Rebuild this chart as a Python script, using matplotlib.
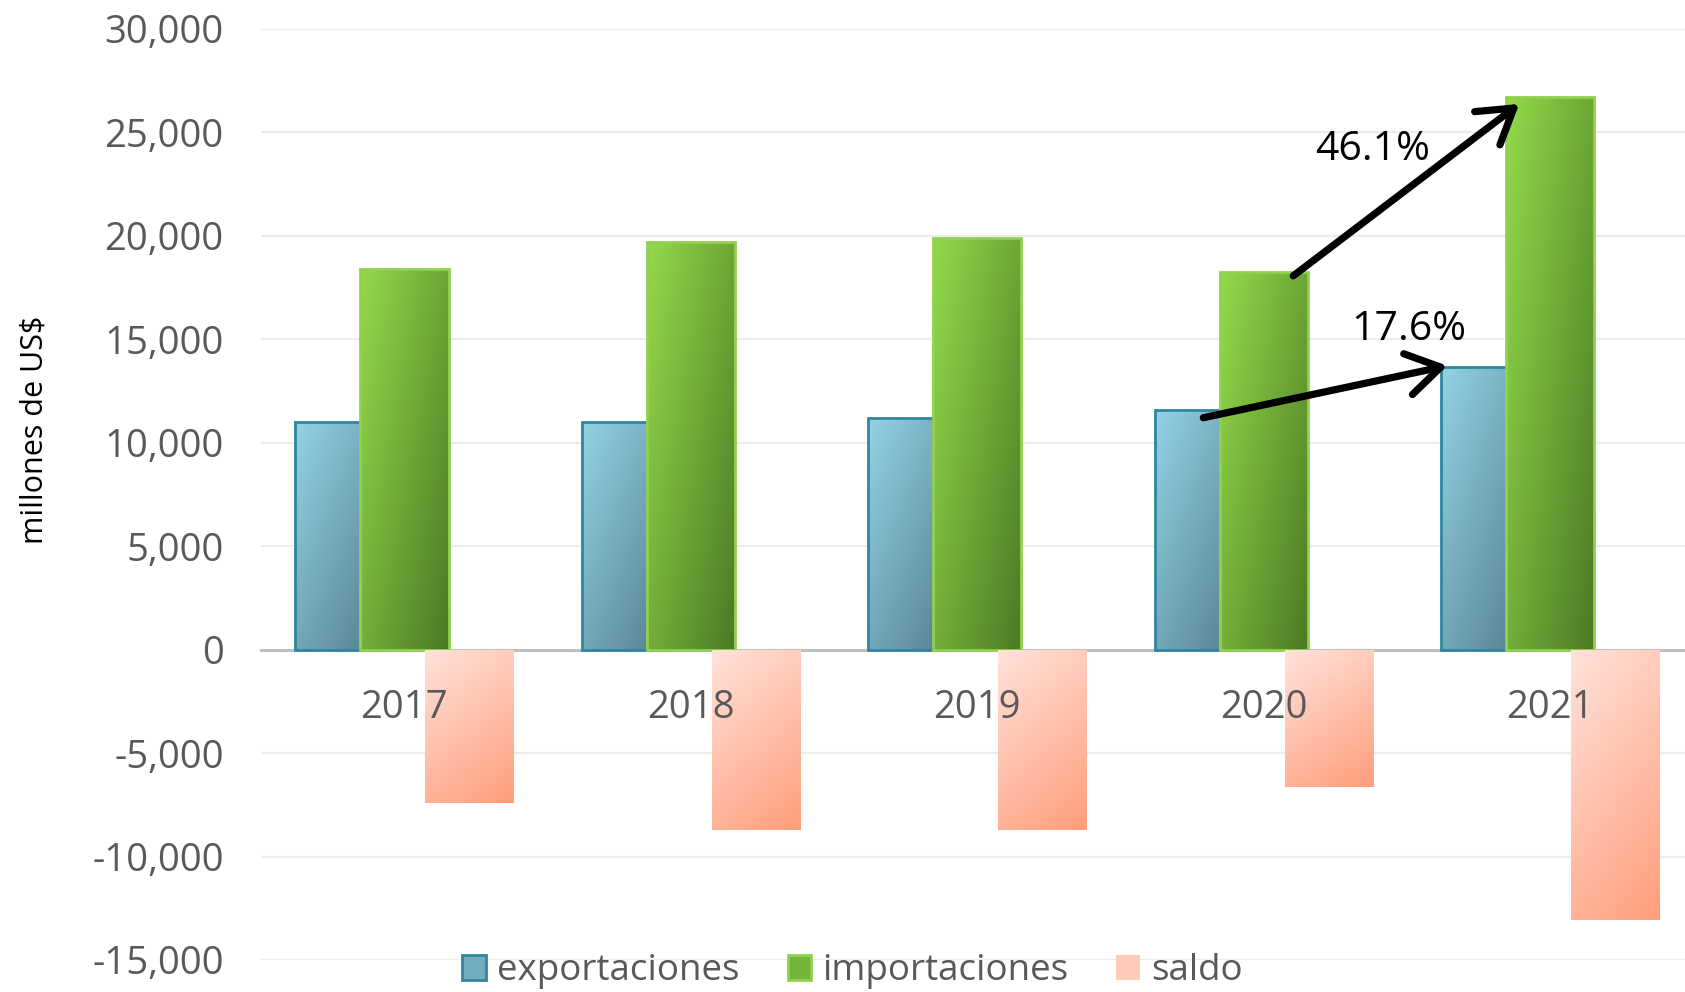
import numpy as np
import matplotlib
matplotlib.use("Agg")
import matplotlib.pyplot as plt
from matplotlib.colors import LinearSegmentedColormap
from matplotlib.patches import Patch
from matplotlib.ticker import FuncFormatter, MultipleLocator

plt.rcParams['font.family'] = ['Open Sans', 'DejaVu Sans']

# --- data ---
years = ['2017', '2018', '2019', '2020', '2021']
exportaciones = [11000, 11000, 11200, 11600, 13650]
importaciones = [18400, 19700, 19900, 18250, 26700]
saldo = [-7400, -8700, -8700, -6650, -13050]
series_names = ['exportaciones', 'importaciones', 'saldo']
growth_labels = ['17.6%', '46.1%']

fig = plt.figure(figsize=(16.85, 9.92), dpi=100, facecolor='white')
ax = fig.add_axes([0.155, 0.0323, 0.85, 0.9385])

x = np.arange(len(years))
width = 0.308
step = 0.227

# gradient settings per series: light, dark, weight along x, weight along y
grads = {
    'exportaciones': ('#93D2E4', '#527E8D', 0.5, 0.5),
    'importaciones': ('#93DA4A', '#4C7A24', 0.55, 0.45),
    'saldo': ('#FFE2DA', '#FF9E7C', 0.3, 0.7),
}


def paint_gradient(bars, light, dark, wu, wv, z):
    cmap = LinearSegmentedColormap.from_list('g', [light, dark])
    n = 64
    u, v = np.meshgrid(np.linspace(0, 1, n), np.linspace(0, 1, n))
    t = wu * u + wv * v
    for b in bars:
        x0 = b.get_x()
        w = b.get_width()
        y0 = min(b.get_y(), b.get_y() + b.get_height())
        y1 = max(b.get_y(), b.get_y() + b.get_height())
        im = ax.imshow(t, cmap=cmap, vmin=0, vmax=1, extent=[x0, x0 + w, y0, y1],
                       origin='upper', aspect='auto', interpolation='bilinear', zorder=z)
        im.set_clip_path(b)


b_exp = ax.bar(x - step, exportaciones, width, facecolor='none', edgecolor='#2F86A0',
               linewidth=2, zorder=2.2)
paint_gradient(b_exp, *grads['exportaciones'], z=2.1)

b_imp = ax.bar(x, importaciones, width, facecolor='none', edgecolor='#92D050',
               linewidth=2, zorder=2.4)
paint_gradient(b_imp, *grads['importaciones'], z=2.3)

b_sal = ax.bar(x + step, saldo, width, facecolor='none', edgecolor='none', zorder=2.6)
paint_gradient(b_sal, *grads['saldo'], z=2.5)

# grid lines drawn by hand so tick labels can sit over the bars
yticks = np.arange(-15000, 30001, 5000)
for yv in yticks:
    if yv != 0:
        ax.axhline(yv, color='#EDEDED', lw=1.6, zorder=0.5)

ax.set_xlim(-0.5, len(years) - 0.5)
ax.set_ylim(-15000, 30000)
ax.yaxis.set_major_locator(MultipleLocator(5000))
ax.yaxis.set_major_formatter(FuncFormatter(lambda v, p: f"{v:,.0f}"))
ax.set_xticks(x)
ax.set_xticklabels(years)

for s in ['top', 'right', 'left']:
    ax.spines[s].set_visible(False)
ax.spines['bottom'].set_position(('data', 0))
ax.spines['bottom'].set_color('#BFBFBF')
ax.spines['bottom'].set_linewidth(2.2)
ax.spines['bottom'].set_zorder(2.0)
ax.xaxis.set_zorder(5)

ax.tick_params(axis='both', length=0, labelsize=27.5, colors='#595959')
ax.tick_params(axis='y', pad=27)
ax.tick_params(axis='x', pad=28)

ax.set_ylabel('millones de US$', fontsize=22, color='black')
ax.yaxis.set_label_coords(-0.148, 0.569)

# growth arrows
arrow_kw = dict(arrowstyle='->,head_length=0.8,head_width=0.5', lw=5.2, color='black',
                mutation_scale=30, shrinkA=0, shrinkB=0, capstyle='round', joinstyle='round')
ax.annotate('', xy=(3.641, 13720), xytext=(2.789, 11208), arrowprops=arrow_kw, zorder=6)
ax.annotate('', xy=(3.892, 26377), xytext=(3.103, 18068), arrowprops=arrow_kw, zorder=6)
ax.text(3.505, 15450, growth_labels[0], fontsize=29.5, ha='center', va='center', color='black', zorder=6)
ax.text(3.38, 24150, growth_labels[1], fontsize=29.5, ha='center', va='center', color='black', zorder=6)

handles = [
    Patch(facecolor='#72AEC0', edgecolor='#2F86A0', linewidth=2),
    Patch(facecolor='#73B53A', edgecolor='#92D050', linewidth=2),
    Patch(facecolor='#FFCBB9', edgecolor='none'),
]
leg = fig.legend(handles, series_names, loc='center', bbox_to_anchor=(0.506, 0.021), ncol=3,
                 frameon=False, fontsize=26.5, handlelength=0.65, handleheight=0.65,
                 handletextpad=0.3, columnspacing=1.3, borderaxespad=0)
for t in leg.get_texts():
    t.set_color('#595959')

fig.savefig('out.png', dpi=100, facecolor='white')
